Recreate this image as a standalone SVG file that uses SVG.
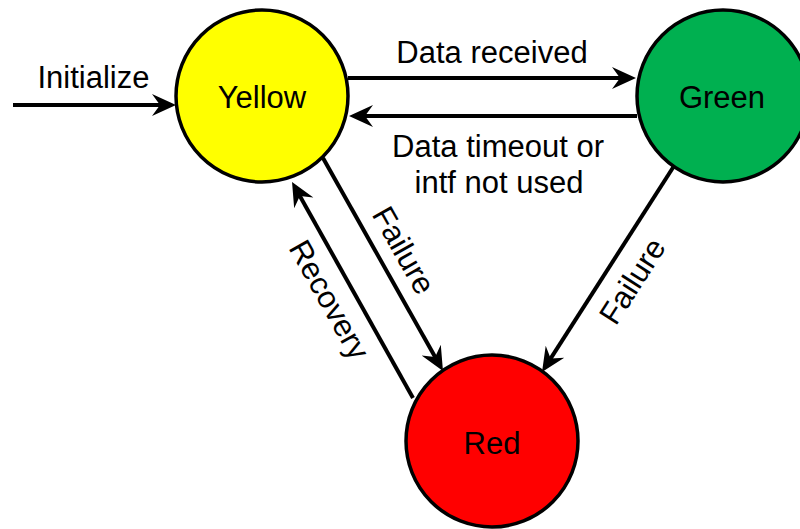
<svg xmlns="http://www.w3.org/2000/svg" width="800" height="529" viewBox="0 0 800 529">
<defs>
<style>
text{font-family:"Liberation Sans",Arial,sans-serif;font-size:31px;fill:#000}
.st{stroke:#000;stroke-width:3.5}
.ln{stroke:#000;stroke-width:4;fill:none}
</style>
<marker id="ah" markerUnits="userSpaceOnUse" markerWidth="26" markerHeight="26" viewBox="0 -13 26 26" refX="12" refY="0" orient="auto">
<path d="M24,0 L0,-11 L8,0 L0,11 Z" fill="#000"/>
</marker>
</defs>
<rect width="800" height="529" fill="#fff"/>
<g id="connectors">
<g id="e-init"><line class="ln" x1="13" y1="105" x2="164" y2="105" marker-end="url(#ah)"/><text x="93.5" y="88" text-anchor="middle">Initialize</text></g>
<g id="e-recv"><line class="ln" x1="348" y1="78" x2="624" y2="78" marker-end="url(#ah)"/><text x="492" y="63" text-anchor="middle">Data received</text></g>
<g id="e-timeout"><line class="ln" x1="637" y1="116" x2="361" y2="116" marker-end="url(#ah)"/><text x="498" y="157" text-anchor="middle">Data timeout or</text><text x="499" y="193" text-anchor="middle">intf not used</text></g>
<g id="e-yfail"><line class="ln" x1="323" y1="158" x2="437.1" y2="360.5" marker-end="url(#ah)"/><text transform="translate(404,250) rotate(60.6)" y="11" text-anchor="middle">Failure</text></g>
<g id="e-recovery"><line class="ln" x1="413" y1="398" x2="297.9" y2="192.5" marker-end="url(#ah)"/><text transform="translate(327,301) rotate(60.7)" y="8" text-anchor="middle">Recovery</text></g>
<g id="e-gfail"><line class="ln" x1="674" y1="166" x2="548.5" y2="361.9" marker-end="url(#ah)"/><text transform="translate(632,281) rotate(-57.4)" y="11" text-anchor="middle">Failure</text></g>
</g>
<g id="yellow"><circle class="st" cx="262" cy="96" r="86" fill="#FFFF00"/><text x="262" y="108" text-anchor="middle">Yellow</text></g>
<g id="green"><circle class="st" cx="723" cy="96" r="86" fill="#00B050"/><text x="722" y="108" text-anchor="middle">Green</text></g>
<g id="red"><circle class="st" cx="492" cy="441" r="86" fill="#FF0000"/><text x="492" y="454" text-anchor="middle">Red</text></g>
</svg>
